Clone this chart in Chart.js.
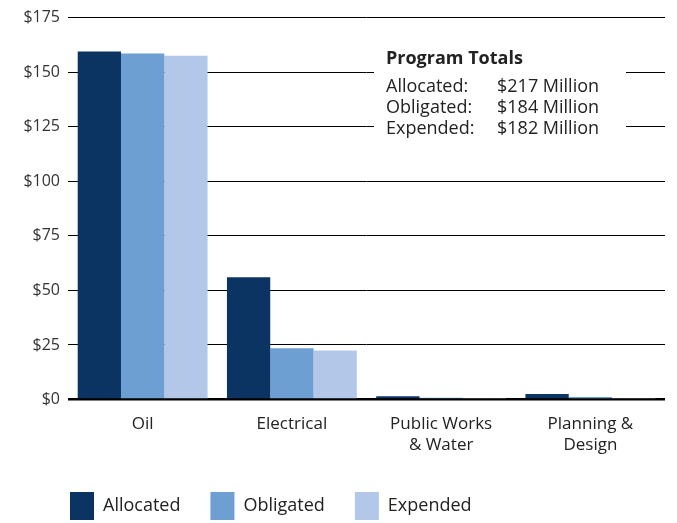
<!DOCTYPE html>
<html>
<head>
<meta charset="utf-8">
<script src="https://cdn.jsdelivr.net/npm/chart.js@4"></script>
<style>
  html, body { margin: 0; padding: 0; background: #fff; }
  #wrap { width: 677px; height: 523px; position: relative; }
</style>
</head>
<body>
<div id="wrap"><canvas id="chart"></canvas></div>
<script>
// Categories and series values (millions of dollars)
const categories = ['Oil', 'Electrical', ['Public Works', '& Water'], ['Planning &', 'Design']];
const allocated = [159.5, 56, 1.5, 2.5];
const obligated = [158.5, 23.5, 0.8, 1.2];
const expended = [157.5, 22.5, 0.5, 0.7];
const seriesNames = ['Allocated', 'Obligated', 'Expended'];
const seriesColors = ['#0b3463', '#6e9fd3', '#b3c7e8'];

// Program totals box
const totalsTitle = 'Program Totals';
const totalsLabels = ['Allocated:', 'Obligated:', 'Expended:'];
const totalsValues = ['$217 Million', '$184 Million', '$182 Million'];

const FONT = "'Open Sans', 'DejaVu Sans', sans-serif";

// White panel with the totals text, drawn over the gridlines
const totalsBox = {
  id: 'totalsBox',
  afterDatasetsDraw(chart) {
    const c = chart.ctx;
    c.save();
    c.fillStyle = '#fff';
    c.fillRect(374, 42, 252, 104);
    c.fillStyle = '#222';
    c.textBaseline = 'middle';
    c.font = "bold 18px " + FONT;
    c.fillText(totalsTitle, 386, 59);
    c.font = "18px " + FONT;
    totalsLabels.forEach((lab, i) => {
      const y = 87 + i * 21;
      c.fillText(lab, 386, y);
      c.fillText(totalsValues[i], 497, y);
    });
    c.restore();
  }
};

// nudge the legend so it sits under the plot like the original
const legendShift = {
  id: 'legendShift',
  afterLayout(chart) {
    const lg = chart.legend;
    if (!lg) return;
    lg.left += 36;
    lg.right += 36;
  }
};

new Chart(document.getElementById('chart'), {
  type: 'bar',
  data: {
    labels: categories,
    datasets: [allocated, obligated, expended].map((d, i) => ({
      label: seriesNames[i],
      data: d,
      backgroundColor: seriesColors[i],
      borderWidth: 0,
      categoryPercentage: 0.87,
      barPercentage: 1.0
    }))
  },
  options: {
    responsive: true,
    maintainAspectRatio: false,
    animation: false,
    layout: { padding: { top: 8, right: 12, left: 4, bottom: -7 } },
    plugins: {
      tooltip: { enabled: false },
      legend: {
        position: 'bottom',
        align: 'start',
        labels: {
          boxWidth: 24,
          boxHeight: 28,
          padding: 30,
          color: '#222',
          font: { family: FONT, size: 18 }
        }
      }
    },
    scales: {
      x: {
        grid: { display: false },
        border: { display: false },
        ticks: {
          color: '#222',
          padding: 6,
          font: { family: FONT, size: 17, lineHeight: 1.25 },
          maxRotation: 0,
          autoSkip: false
        }
      },
      y: {
        min: 0,
        max: 175,
        border: { display: false },
        afterFit: s => { s.width = 64; },
        grid: {
          color: '#000',
          drawTicks: false,
          lineWidth: ctx => (ctx.tick && ctx.tick.value === 0 ? 2.5 : 1)
        },
        ticks: {
          stepSize: 25,
          padding: 8,
          color: '#333',
          font: { family: FONT, size: 16 },
          callback: v => '$' + v
        }
      }
    }
  },
  plugins: [totalsBox, legendShift]
});
</script>
</body>
</html>
